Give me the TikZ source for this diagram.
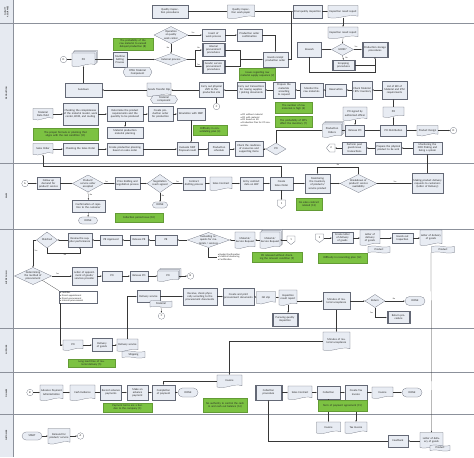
\documentclass[tikz,border=0pt]{standalone}
\usepackage{fontspec}
\setmainfont{Carlito}
\usetikzlibrary{arrows.meta,shapes.misc,shapes.symbols,calc}
\definecolor{boxf}{RGB}{232,236,243}
\definecolor{boxd}{RGB}{100,105,118}
\definecolor{linec}{RGB}{55,55,55}
\definecolor{grnf}{RGB}{124,194,66}
\definecolor{lanef}{RGB}{230,234,241}
\definecolor{lanel}{RGB}{140,145,155}
\tikzset{
 txt/.style={font=\fontsize{5.6}{6.4}\selectfont, align=center, inner sep=0pt, text=black!85},
 shp/.style={draw=boxd, fill=boxf, line width=0.45pt},
 shpl/.style={draw=boxd, line width=0.45pt},
 box/.style={shp, txt},
 grn/.style={fill=grnf, draw=grnf!80!black, line width=0.3pt, txt},
 term/.style={rounded rectangle, shp, txt},
 circ/.style={circle, shp, fill=white, txt, minimum size=13pt},
 ln/.style={draw=linec, line width=0.45pt},
 arr/.style={ln, -{Latex[length=3pt,width=2.6pt]}},
 lbl/.style={font=\fontsize{4.2}{4.6}\selectfont, inner sep=0.5pt, text=black!80},
 lanelab/.style={font=\bfseries\fontsize{4.4}{5}\selectfont, rotate=90, align=center, text=black!80},
 bul/.style={font=\fontsize{4.8}{5.6}\selectfont, align=left, inner sep=1pt, text=black!85},
}
\newcommand\BoxN[6]{\pgfmathsetmacro\rkW{#4*2}\pgfmathsetmacro\rkH{#5*2}\pgfmathsetmacro\rkX{#4*2-3}%
 \node[box,minimum width=\rkW pt,minimum height=\rkH pt,text width=\rkX pt] (#1) at (#2,#3) {#6};}
\newcommand\GrnN[6]{\pgfmathsetmacro\rkW{#4*2}\pgfmathsetmacro\rkH{#5*2}\pgfmathsetmacro\rkX{#4*2-4}%
 \node[grn,minimum width=\rkW pt,minimum height=\rkH pt,text width=\rkX pt] (#1) at (#2,#3) {#6};}
\newcommand\PredN[6]{\pgfmathsetmacro\rkW{#4*2}\pgfmathsetmacro\rkH{#5*2}\pgfmathsetmacro\rkX{#4*2-8}%
 \node[box,minimum width=\rkW pt,minimum height=\rkH pt,text width=\rkX pt] (#1) at (#2,#3) {#6};
 \draw[shpl] ([xshift=2.6pt]#1.north west) -- ([xshift=2.6pt]#1.south west) ([xshift=-2.6pt]#1.north east) -- ([xshift=-2.6pt]#1.south east);}
\newcommand\DocShape[4]{\filldraw[shp] ({#1-#3/2},{#2-#4/2}) -- ({#1+#3/2},{#2-#4/2}) -- ({#1+#3/2},{#2+#4/2-1.3}) .. controls ({#1+#3/6},{#2+#4/2-4}) and ({#1-#3/6},{#2+#4/2+2.5}) .. ({#1-#3/2},{#2+#4/2}) -- cycle;}
\newcommand\DocN[6]{\DocShape{#2}{#3}{#4}{#5}\pgfmathsetmacro\rkW{#4*2}\pgfmathsetmacro\rkH{#5*2}\pgfmathsetmacro\rkX{#4*2-3}%
 \node[txt,minimum width=\rkW pt,minimum height=\rkH pt,text width=\rkX pt] (#1) at (#2,#3) {#6};}
\newcommand\MdocN[6]{\DocShape{#2+2.4}{#3-2.4}{#4}{#5}\DocShape{#2+1.2}{#3-1.2}{#4}{#5}\DocN{#1}{#2}{#3}{#4}{#5}{#6}}
\newcommand\DiaN[6]{\filldraw[shp] (#2,{#3-#5/2}) -- ({#2+#4/2},#3) -- (#2,{#3+#5/2}) -- ({#2-#4/2},#3) -- cycle;
 \pgfmathsetmacro\rkW{#4*2}\pgfmathsetmacro\rkH{#5*2}\pgfmathsetmacro\rkX{#4*1.2}%
 \node[txt,minimum width=\rkW pt,minimum height=\rkH pt,text width=\rkX pt] (#1) at (#2,#3) {#6};}
\newcommand\TermN[6]{\pgfmathsetmacro\rkW{#4*2}\pgfmathsetmacro\rkH{#5*2}%
 \node[term,minimum width=\rkW pt,minimum height=\rkH pt] (#1) at (#2,#3) {#6};}
\newcommand\TapeN[6]{\pgfmathsetmacro\rkW{#4*2}\pgfmathsetmacro\rkH{#5*2}%
 \node[tape,shp,txt,tape bend top=out and in,tape bend bottom=out and in,tape bend height=2pt,minimum width=\rkW pt,minimum height=\rkH pt] (#1) at (#2,#3) {#6};}
\newcommand\HexN[6]{\filldraw[shp] ({#2-#4/2},#3) -- ({#2-#4/2+2.5},{#3-#5/2}) -- ({#2+#4/2-2.5},{#3-#5/2}) -- ({#2+#4/2},#3) -- ({#2+#4/2-2.5},{#3+#5/2}) -- ({#2-#4/2+2.5},{#3+#5/2}) -- cycle;
 \pgfmathsetmacro\rkW{#4*2}\pgfmathsetmacro\rkH{#5*2}\pgfmathsetmacro\rkX{#4*2-8}%
 \node[txt,minimum width=\rkW pt,minimum height=\rkH pt,text width=\rkX pt] (#1) at (#2,#3) {#6};}
\newcommand\CirN[4]{\node[circ] (#1) at (#2,#3) {#4};}
\newcommand\OffD[4]{\filldraw[shp,fill=white] ({#2-4},{#3-4}) -- ({#2+4},{#3-4}) -- ({#2+4},{#3+1.5}) -- (#2,{#3+4.5}) -- ({#2-4},{#3+1.5}) -- cycle;
 \node[txt,minimum width=16pt,minimum height=16pt] (#1) at (#2,#3) {#4};}
\newcommand\OffL[4]{\filldraw[shp,fill=white] ({#2+4},{#3-4}) -- ({#2-1.5},{#3-4}) -- ({#2-4.5},#3) -- ({#2-1.5},{#3+4}) -- ({#2+4},{#3+4}) -- cycle;
 \node[txt,minimum width=16pt,minimum height=16pt] (#1) at (#2,#3) {#4};}
\begin{document}
\begin{tikzpicture}[x=2pt,y=-2pt]
\useasboundingbox (0,0) rectangle (474,457);
% lanes
\fill[lanef] (0,0) rectangle (13,457);
\draw[lanel,line width=0.5pt] (13,0) -- (13,457);
\foreach \yy in {23,163,229,328,372,414} {\draw[lanel,line width=0.7pt] (0,\yy) -- (474,\yy);}
\node[lanelab] at (6.5,11.5) {QUALITY\\ASSURANCE};
\node[lanelab] at (6.5,93) {PRODUCTION};
\node[lanelab] at (6.5,196) {SALES};
\node[lanelab] at (6.5,278) {SUPPLY CHAIN};
\node[lanelab] at (6.5,350) {SUPPLIER};
\node[lanelab] at (6.5,393) {FINANCE};
\node[lanelab] at (6.5,435.5) {CUSTOMER};

% ===== QUALITY ASSURANCE =====
\BoxN{qip}{170}{11.5}{36}{13}{Quality inspection procedures}
\DocN{qiwp}{241}{11.5}{27}{13}{Quality inspection work paper}
\BoxN{fqi}{307.5}{11.5}{29}{13}{Final quality inspection}
\DocN{irr1}{343}{11.5}{30}{12}{Inspection result report}

% ===== PRODUCTION =====
\DiaN{op}{171}{35}{34}{17}{Operation at quality work center}
\BoxN{iwp}{213.5}{35}{23}{12}{Insert of work process}
\BoxN{poc}{249.5}{35}{25}{12}{Production order confirmation}
\DiaN{ext}{171}{59.5}{32}{12}{External process}
\PredN{ipp}{213.5}{50}{23}{13}{Internal procurement procedures}
\PredN{gsp}{213.5}{66.5}{23}{13}{Goods/ service procurement procedures}
\BoxN{gr}{275.5}{59.5}{25}{15}{Goods receipt production order}
\GrnN{g1}{133}{44}{40}{12}{The probability of the raw material to exceed delayed production (8)}
\CirN{cD1}{63.5}{59.5}{D}
\MdocN{po1}{83.5}{59.5}{23}{13}{PO}
\BoxN{mset}{120}{59.5}{14}{15}{Machine Setting Process}
\HexN{rtsu}{137.5}{72}{29}{9}{RTSU Material Component}
\BoxN{sund}{83.5}{90}{37}{14}{Sundown}
\DocN{gts}{159}{89.5}{24}{13}{Goods Transfer Slip}
\HexN{mc}{164}{99.5}{27}{8}{Material component}
\BoxN{cops}{211.5}{90}{24}{15}{Carry out physical shift to the production site}
\CirN{cC2}{216.5}{106.5}{C}
\GrnN{g2}{257.5}{74}{36}{12}{Issues regarding raw material supply sequence (2)}
\BoxN{cot}{251}{90}{28}{16}{Carry out transactions for issuing supplies / picking documents}
\BoxN{prep}{284}{90}{22}{16}{Prepare the materials according to request}
\BoxN{mon}{311.5}{90}{23}{14}{Monitor the raw materials}
\BoxN{resv}{336}{90}{21}{12}{Reservation}
\BoxN{chk}{362}{90}{20}{18}{Check Material / RTU Inventory}
\BoxN{lbom}{394.5}{90}{25}{18}{List of Bill of Material and RTU requirements}
\DocN{irr2}{343}{32.5}{30}{11}{Inspection result report}
\DiaN{good}{342.5}{49.5}{22}{12}{GOOD?}
\BoxN{rework}{309.5}{49.5}{24}{15}{Rework}
\PredN{pstore}{375}{49.5}{26}{15}{Production storage procedures}
\PredN{scrap}{343.5}{65}{23}{10}{Scrapping procedures}

\DocN{mdy}{43}{114}{20}{11}{Material Data Yield}
\BoxN{chkc}{80.5}{114}{35}{22}{Checking the completeness of the material master, work center, BOM, and routing}
\BoxN{det}{125}{114}{36}{15}{Determine the product requirements and the quantity to be produced}
\BoxN{cpo}{160.5}{114}{25}{15}{Create production order for production}
\BoxN{sim}{191}{114}{28}{12}{Simulation with MRP}
\BoxN{mpp}{125}{132.5}{36}{11}{Material production material planning}
\GrnN{g3}{65.5}{134}{65}{12}{The proper formula or planning that aligns with the real condition (11)}
\GrnN{g4}{210}{130}{34}{10}{Difficulty in consolidating plan (4)}
\node[bul,text width=62pt] (bul1) at (256,120) {\textbullet\ PO without material\\\textbullet\ PO with material\\\textbullet\ PO based on SO\\\textbullet\ Production Plan for PO conversion};
\GrnN{g5}{293.5}{107.5}{37}{11}{The number of raw materials is high (6)}
\GrnN{g6}{293.5}{122}{37}{11}{The probability of MTS affect the inventory (7)}
\DocN{posg}{355}{113.5}{24}{13}{PO signed by authorized officer}
\DocN{podoc}{393.5}{112}{21}{10}{PO}
\MdocN{porders}{332}{130.5}{19}{13}{Production Orders}
\BoxN{rpo}{355}{130.5}{19}{11}{Release PO}
\BoxN{podist}{393.5}{130.5}{26}{11}{PO Distribution}
\DocN{pdesign}{427.5}{130.5}{21}{10}{Product Design}
\CirN{cD2}{453.5}{130.5}{D}
\DocN{so}{43}{149}{20}{11}{Sales Order}
\BoxN{chso}{80.5}{149}{35}{12}{Checking the Sales Order}
\BoxN{cpp}{125}{149}{36}{12}{Create production planning based on sales order}
\BoxN{emrp}{187.5}{149}{21}{13}{Evaluate MRP Proposal result}
\BoxN{psch}{219}{149}{21}{13}{Production schedule}
\BoxN{crr}{249}{149}{28}{15}{Check the readiness of resources and supporting items}
\DiaN{podia}{276}{149}{20}{12}{PO}
\OffL{off2a}{331}{148}{2}
\BoxN{ppgi}{354.5}{148}{24}{12}{Perform post goods issue transactions}
\BoxN{ppp}{388.5}{148}{26}{12}{Prepare the physical product to be sent}
\BoxN{mfifo}{427.5}{148}{29}{12}{Monitoring the FIFO Picking and being a system}

% ===== SALES =====
\CirN{cA1}{25}{183.5}{A}
\BoxN{fud}{48.5}{183.5}{23}{12}{Follow up demand for product/ service}
\DiaN{acc}{88}{183.5}{31}{17}{Product/ service order accepted}
\BoxN{conf}{88.5}{206}{33}{12}{Confirmation of rejection to the customer}
\TermN{done1}{88}{220.5}{19}{7}{DONE}
\BoxN{pbn}{127.5}{183.5}{25}{12}{Price bidding and negotiation process}
\DiaN{neg}{160}{183.5}{26}{18}{Negotiation reach agreed}
\TermN{done2}{160}{205}{15}{6}{DONE}
\GrnN{g7}{139}{218}{48}{9}{Collection period issue (10)}
\BoxN{cdp}{194}{183.5}{22}{13}{Contract drafting process}
\DocN{sc}{221}{183.5}{22}{13}{Sales Contract}
\BoxN{ecd}{251.5}{183.5}{23}{13}{Entry contract data on ERP}
\BoxN{cso}{281.5}{183.5}{23}{13}{Create Sales Order}
\OffD{off1a}{281.5}{204}{1}
\GrnN{g8}{309}{204}{26}{12}{No sales contract related (13)}
\BoxN{minv}{317.5}{183.5}{25}{19}{Monitoring the inventory of products/ service product}
\DiaN{brk}{358.5}{183.5}{37}{18}{Breakdown of product/ service availability}
\BoxN{mpd}{427.5}{183.5}{31}{20}{Making product delivery requests to customers (Letter of Delivery)}

% ===== SUPPLY CHAIN =====
\DiaN{matched}{47}{240}{21}{16}{Matched}
\BoxN{rsp}{80}{240}{24}{14}{Review the supplier performance}
\BoxN{pra}{111}{240}{22}{10}{PR Approved}
\BoxN{rpr}{139}{240}{18}{10}{Release PR}
\BoxN{pr}{166}{240}{22}{10}{PR}
\DiaN{eval}{208.5}{240}{42}{15}{Evaluating requests for materials / services}
\node[bul] (bul2) at (229,257) {\textbullet\ Budget Confirmation\\\textbullet\ Material Monitoring\\\textbullet\ Certification};
\DocN{msr1}{245}{240}{20}{16}{Material/ Service Request}
\MdocN{msr2}{270}{240}{20}{16}{Material/ Service Request}
\OffD{off1b}{291}{240}{1}
\GrnN{g9}{277}{257}{50}{10}{PR released without checking the relevant condition (9)}
\OffD{off2b}{319.5}{238}{2}
\BoxN{cld}{342.5}{238}{21}{11}{Create letter of delivery of goods}
\DocN{ld1}{370}{237.5}{20}{15}{Letter of delivery of goods}
\TapeN{pd1}{379}{249.5}{22}{7}{Product}
\BoxN{goi}{402.5}{238}{21}{10}{Goods out Inspection}
\DocN{ld2}{431}{237.5}{22}{15}{Letter of delivery of goods}
\TapeN{pd2}{443}{249.5}{23}{7}{Product}
\GrnN{g10}{342.5}{258}{49}{10}{Difficulty in reconciling plan (12)}

\DiaN{det2}{33}{276}{37}{17}{Determining the method of procurement}
\BoxN{lap}{84.5}{276}{25}{18}{Letter of appointment of goods/ services provider}
\BoxN{po2}{112}{276}{20}{10}{PO}
\BoxN{rpo3}{139}{276}{18}{10}{Release PO}
\MdocN{po3}{168}{276}{21}{10}{PO}
\CirN{cB1}{190.5}{276}{B}
\node[bul,draw=boxd,fill=white,line width=0.45pt,text width=72pt,inner sep=2pt] (bul3) at (78,297) {\textbullet\ Facilities\\\textbullet\ Direct appointment\\\textbullet\ Direct procurement\\\textbullet\ Internal procurement};
\BoxN{dsv}{148.5}{296.5}{23}{12}{Delivery service}
\TapeN{matl}{161}{304}{22}{7}{Material}
\CirN{cC1}{161.5}{316}{C}
\BoxN{rcp}{200}{296.5}{34}{17}{Receive, check physically according to the procurement documents}
\BoxN{cpd}{238.5}{296.5}{31}{17}{Create and print procurement documents}
\DocN{grs}{266}{297.5}{19}{12}{GR slip}
\DocN{irr3}{288}{297.5}{18}{15}{Inspection result report}
\PredN{pqi}{285}{319.5}{26}{13}{Pursuing quality inspection}
\BoxN{mma}{336.5}{301}{27}{17}{Minutes of material acceptance}
\DiaN{ret}{375}{301}{20}{13}{Return}
\TermN{done3}{415}{301}{20}{9}{DONE}
\PredN{rproc}{398.5}{317.5}{23}{12}{Return procedure}

% ===== SUPPLIER =====
\DocN{po4}{73}{345}{20}{10}{PO}
\BoxN{dog}{102}{345}{20}{13}{Delivery of goods}
\DocN{dsd}{127.5}{345}{21}{12}{Delivery service}
\TapeN{ship}{133.5}{354.5}{23}{7}{Shipping}
\GrnN{g11}{91.5}{363.5}{47}{8}{Long lead time of material delivery (5)}
\DocN{mma2}{336.5}{341}{27}{18}{Minutes of material acceptance}

% ===== FINANCE =====
\CirN{cB2}{30}{392.5}{B}
\DocN{apa}{51.5}{392.5}{23}{15}{Advance Payment Administration}
\DocN{ce}{82.5}{392.5}{25}{15}{Cash Evidence}
\BoxN{rap}{111}{392.5}{21}{15}{Record advance payments}
\BoxN{map}{137.5}{392.5}{21}{15}{Make an advance payment}
\BoxN{cmp}{163.5}{392.5}{23}{15}{Completion of payment}
\TermN{done4}{188}{392.5}{20}{9}{DONE}
\DocN{inv1}{229.5}{381}{25}{12}{Invoice}
\GrnN{g12}{127.5}{407.5}{49}{9}{Payment terms are a burden to the company (1)}
\GrnN{g13}{225}{405}{44}{14}{No authority to control the cash in and cash out balance (14)}
\PredN{colp}{268.5}{392.5}{27}{15}{Collection procedure}
\DocN{sc2}{300}{392.5}{24}{13}{Sales Contract}
\BoxN{col}{328.5}{392.5}{23}{13}{Collection}
\BoxN{cti}{356}{392.5}{22}{15}{Create Tax Invoice}
\DocN{inv2}{382.5}{392.5}{21}{11}{Invoice}
\TermN{done5}{412}{392.5}{20}{9}{DONE}

% ===== CUSTOMER =====
\TermN{start}{32}{436}{20}{8}{START}
\DocN{dps}{59}{436}{22}{15}{Demand for product/ service}
\CirN{cA2}{80.5}{436}{A}
\DocN{inv3}{328.5}{427.5}{24}{11}{Invoice}
\DocN{tinv}{356}{427.5}{22}{11}{Tax Invoice}
\BoxN{fb}{398}{441}{20}{12}{Feedback}
\DocN{ld3}{431.5}{440}{23}{15}{Letter of delivery of goods}
\TapeN{pd3}{440}{448}{20}{6}{Product}

% ===== CONNECTORS =====
% QA
\draw[arr] (qip.east) -- (qiwp.west);
\draw[arr] (qiwp.east) -- (fqi.west);
\draw[arr] (fqi.east) -- (irr1.west);
\draw[ln] (gr.east) -| (291,11.5);
\draw[arr] (irr1.south) -- (irr2.north);
\draw[arr] (irr2.south) -- (good.north);
\draw[arr] (good.east) -- (pstore.west);
\draw[arr] (good.west) -- (rework.east);
\draw[arr] (good.south) -- (scrap.north);
\draw[arr] (rework.south) |- (375,72) -- (pstore.south);
\draw[ln] (scrap.east) -- (375,65);
\node[lbl] at (356,47.3) {Yes};
\node[lbl] at (346.5,57.5) {No};
% production top
\draw[arr] (op.east) -- (iwp.west);
\node[lbl] at (193,33) {Yes};
\draw[arr] (iwp.east) -- (poc.west);
\draw[arr] (poc.east) -| (gr.north);
\draw[arr] (op.south) -- (ext.north);
\node[lbl] at (168,48) {No};
\draw[arr] (ext.east) -- (195,59.5) |- (ipp.west);
\draw[arr] (ext.east) -- (195,59.5) |- (gsp.west);
\node[lbl] at (198.5,48) {No};
\node[lbl] at (198.5,64.5) {Yes};
\draw[ln] (ipp.east) -- (240,50) -- (240,66.5);
\draw[ln] (gsp.east) -- (240,66.5);
\draw[arr] (240,59.5) -- (gr.west);
\draw[arr] (cD1.east) -- (po1.west);
\draw[arr] (po1.east) -- (mset.west);
\draw[arr] (mset.east) -- (ext.west);
\draw[arr] (sund.north) -- (po1.south);
\draw[arr] (gts.west |- sund.east) -- (sund.east);
\draw[arr] (cops.west) -- (cops.west -| gts.east);
\draw[arr] (cC2.north) -- (cC2.north |- cops.south);
\draw[arr] (cot.west) -- (cops.east);
\draw[arr] (prep.west) -- (cot.east);
\draw[arr] (mon.west) -- (prep.east);
\draw[arr] (resv.west) -- (mon.east);
\draw[arr] (chk.west) -- (resv.east);
\draw[arr] (lbom.west) -- (chk.east);
\draw[arr] (podoc.north) -- (podoc.north |- lbom.south);
\draw[arr] (podist.north) -- (podist.north |- podoc.south);
\draw[arr] (posg.south) -- (rpo.north);
\draw[arr] (porders.east) -- (rpo.west);
\draw[arr] (rpo.east) -- (podist.west);
\draw[arr] (podist.east) -- (pdesign.west);
\draw[arr] (pdesign.east) -- (cD2.west);
% production lower
\draw[arr] (mdy.east) -- (chkc.west);
\draw[arr] (chkc.east) -- (det.west);
\draw[arr] (det.east) -- (cpo.west);
\draw[arr] (cpo.east) -- (sim.west);
\draw[arr] (det.south) -- (mpp.north);
\draw[arr] (so.east) -- (chso.west);
\draw[arr] (chso.east) -- (cpp.west);
\draw[arr] (cpp.east) -- (emrp.west);
\draw[arr] (sim.south) -- (sim.south |- emrp.north);
\draw[arr] (emrp.east) -- (psch.west);
\draw[arr] (psch.east) -- (crr.west);
\draw[arr] (crr.east) -- (podia.west);
\draw[arr] (podia.north) |- (porders.west);
\draw[arr] (ppgi.west) -- (off2a.east);
\draw[arr] (ppp.west) -- (ppgi.east);
\draw[arr] (mfifo.west) -- (ppp.east);
\draw[arr] (mpd.north) -- (mfifo.south);
% sales
\draw[arr] (cA1.east) -- (fud.west);
\draw[arr] (fud.east) -- (acc.west);
\draw[arr] (acc.east) -- (pbn.west);
\node[lbl] at (106.5,181.5) {Yes};
\draw[arr] (acc.south) -- (conf.north);
\node[lbl] at (91,195) {No};
\draw[arr] (conf.south) -- (done1.north);
\draw[arr] (pbn.east) -- (neg.west);
\draw[arr] (neg.east) -- (cdp.west);
\node[lbl] at (177.5,181.5) {Yes};
\draw[arr] (neg.south) -- (done2.north);
\node[lbl] at (163,195.5) {No};
\draw[arr] (cdp.east) -- (sc.west);
\draw[arr] (sc.east) -- (ecd.west);
\draw[arr] (ecd.east) -- (cso.west);
\draw[arr] (cso.east) -- (minv.west);
\draw[arr] (cso.south) -- (off1a.north);
\draw[arr] (cso.north) |- (43,166.5) -- (so.south);
\draw[arr] (minv.east) -- (brk.west);
\draw[arr] (brk.east) -- (mpd.west);
\node[lbl] at (395,181.5) {Yes};
\draw[arr] (brk.north) -- (358.5,167) -| (minv.north);
\node[lbl] at (338,165.3) {No};
% supply chain
\draw[arr] (off1b.west) -- (msr2.east);
\draw[arr] (msr2.west) -- (msr1.east);
\draw[arr] (msr1.west) -- (eval.east);
\draw[arr] (eval.west) -- (pr.east);
\draw[arr] (pr.west) -- (rpr.east);
\draw[arr] (rpr.west) -- (pra.east);
\draw[arr] (pra.west) -- (rsp.east);
\draw[arr] (rsp.west) -- (matched.east);
\draw[arr] (matched.south) -- (47,253) -| (rsp.south);
\node[lbl] at (65,254.8) {No};
\draw[arr] (matched.west) -| (det2.north);
\node[lbl] at (36,251) {Yes};
\draw[ln] (eval.south) |- (bul2.west);
\draw[arr] (det2.east) -- (lap.west);
\node[lbl] at (57.5,274.3) {Yes};
\draw[arr] (lap.east) -- (po2.west);
\draw[arr] (po2.east) -- (rpo3.west);
\draw[arr] (rpo3.east) -- (po3.west);
\draw[arr] (po3.east) -- (cB1.west);
\draw[ln] ($(det2.south)!0.5!(det2.east)$) -- (bul3.north west);
\draw[arr] ([xshift=2pt]bul3.south west) |- (po4.west);
\draw[arr] (po4.east) -- (dog.west);
\draw[arr] (dog.east) -- (dsd.west);
\draw[arr] (dsd.north) |- (dsv.west);
\draw[arr] (dsv.east) -- (rcp.west);
\draw[arr] (matl.south) -- (cC1.north);
\draw[arr] (rcp.east) -- (cpd.west);
\draw[arr] (cpd.east) -- (grs.west);
\draw[arr] (grs.east) -- (irr3.west);
\draw[arr] (irr3.south) -- (irr3.south |- pqi.north);
\draw[arr] (irr3.east |- mma.west) -- (mma.west);
\draw[arr] (mma.east) -- (ret.west);
\draw[arr] (ret.east) -- (done3.west);
\node[lbl] at (394,299) {No};
\draw[arr] (ret.south) |- (rproc.west);
\node[lbl] at (371.5,313) {Yes};
\draw[arr] (mma.south) -- (mma2.north);
\draw[arr] (mma2.west) -| (inv1.north);
\draw[arr] (off2b.east) -- (cld.west);
\draw[arr] (cld.east) -- (ld1.west |- cld.east);
\draw[arr] (ld1.east |- goi.west) -- (goi.west);
\draw[arr] (goi.east) -- (ld2.west |- goi.east);
\draw[arr] (ld2.south |- pd2.south) -- (ld3.north);
% finance
\draw[arr] (cB2.east) -- (apa.west);
\draw[arr] (apa.east) -- (ce.west);
\draw[arr] (ce.east) -- (rap.west);
\draw[arr] (rap.east) -- (map.west);
\draw[arr] (map.east) -- (cmp.west);
\draw[arr] (cmp.east) -- (done4.west);
\draw[arr] (inv1.west) -| (cmp.north);
\draw[arr] (colp.east) -- (sc2.west);
\draw[arr] (sc2.east) -- (col.west);
\draw[arr] (col.east) -- (cti.west);
\draw[arr] (cti.east) -- (inv2.west);
\draw[arr] (inv2.east) -- (done5.west);
\draw[arr] (col.south) -- (inv3.north);
\draw[arr] (cti.south) -- (tinv.north);
\GrnN{g14}{342.5}{406}{49}{11}{Term of payment agreement (15)}
% customer
\draw[arr] (start.east) -- (dps.west);
\draw[arr] (dps.east) -- (cA2.west);
\draw[arr] (ld3.west |- fb.east) -- (fb.east);
\draw[arr] (fb.west) -| (colp.south);
\end{tikzpicture}
\end{document}
